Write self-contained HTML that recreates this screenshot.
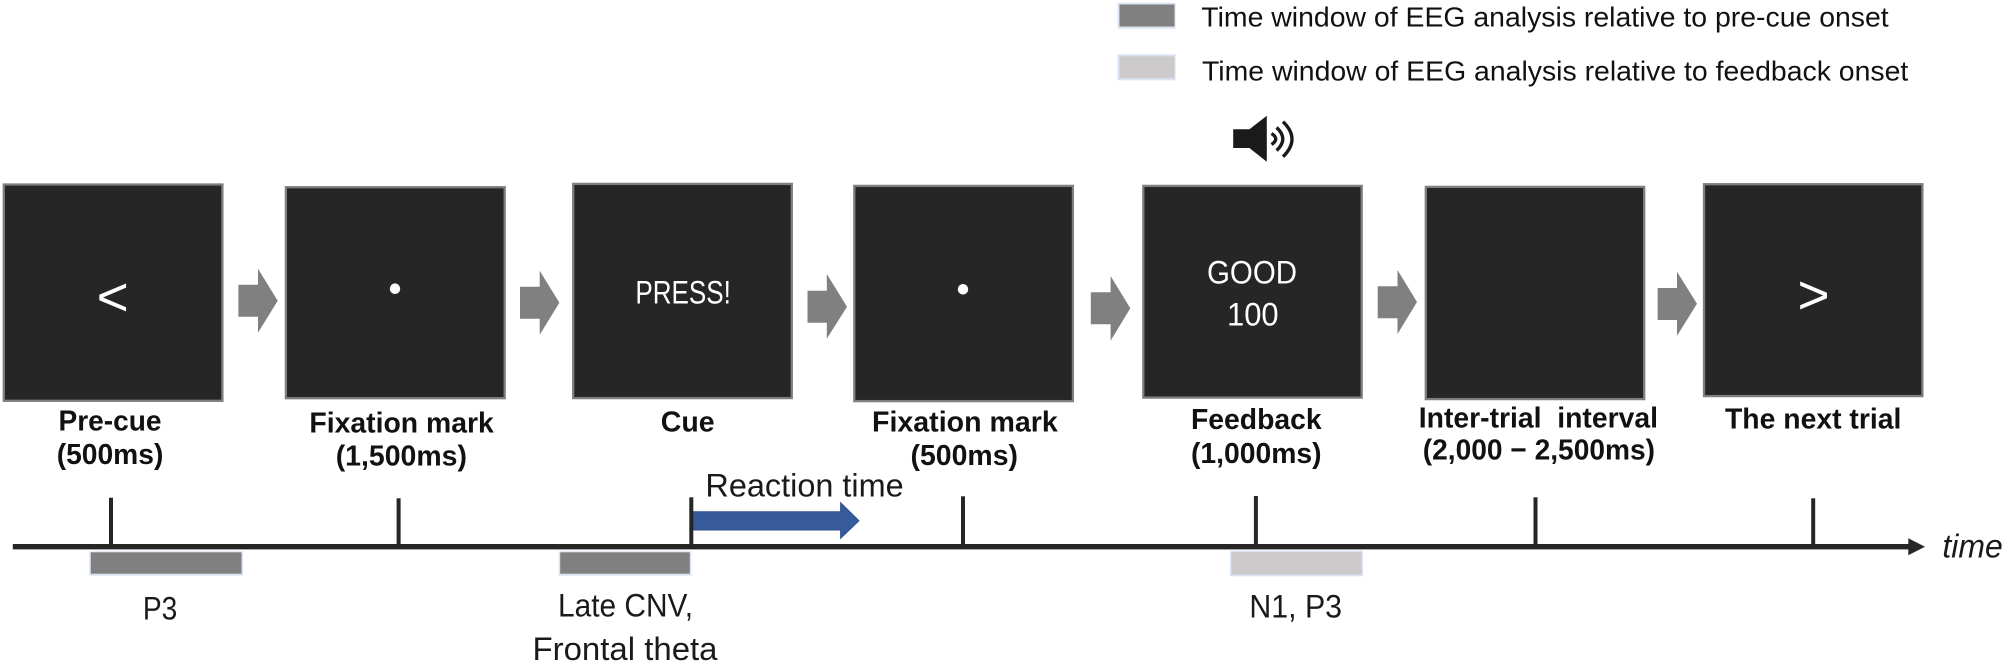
<!DOCTYPE html>
<html>
<head>
<meta charset="utf-8">
<style>
html,body{margin:0;padding:0;background:#fff}
svg{display:block}
text{font-family:"Liberation Sans",sans-serif}
.b{font-weight:700;font-size:29px;fill:#111}
.n{font-size:32px;fill:#1a1a1a}
.l{font-size:27.5px;fill:#111}
.w{font-size:32px;fill:#fff}
</style>
</head>
<body>
<svg width="2008" height="664" viewBox="0 0 2008 664" xmlns="http://www.w3.org/2000/svg">
<rect width="2008" height="664" fill="#fff"/>

<!-- legend -->
<rect x="1117.5" y="2.7" width="58" height="26" fill="#dae3f3"/>
<rect x="1119.5" y="4.5" width="55" height="22" fill="#808080"/>
<text class="l" x="1201.3" y="26.7" textLength="687.4" lengthAdjust="spacingAndGlyphs">Time window of EEG analysis relative to pre-cue onset</text>
<rect x="1117.5" y="54.3" width="58" height="26" fill="#dae3f3"/>
<rect x="1119.5" y="56.3" width="55" height="22" fill="#cccaca"/>
<text class="l" x="1202" y="80.7" textLength="706.3" lengthAdjust="spacingAndGlyphs">Time window of EEG analysis relative to feedback onset</text>

<!-- speaker -->
<polygon points="1233.2,129.3 1249.4,129.3 1266.8,115.7 1266.8,161.7 1249.4,148 1233.2,148" fill="#1a1a1a"/>
<g fill="none" stroke="#1a1a1a" stroke-width="3.4">
<path d="M1271.5,133.5 Q1280,139 1271.5,144.5"/>
<path d="M1276.6,127.5 Q1289,139 1276.6,150.5"/>
<path d="M1283,121.7 Q1301,139 1283,156.7"/>
</g>

<!-- screens -->
<g fill="#262626" stroke="#7f7f7f" stroke-width="2.3">
<rect x="3.8" y="184.5" width="218.6" height="216.3"/>
<rect x="285.9" y="187.2" width="218.8" height="211"/>
<rect x="573.2" y="183.9" width="218.6" height="214.2"/>
<rect x="854.3" y="185.9" width="218.6" height="215.2"/>
<rect x="1143.3" y="185.9" width="218.4" height="211.7"/>
<rect x="1425.8" y="186.9" width="218.4" height="212.2"/>
<rect x="1704" y="184.2" width="218.4" height="211.9"/>
</g>

<!-- arrows between screens -->
<g fill="#808080">
<polygon points="238.4,284.7 258,284.7 258,268.7 277.7,300.7 258,332.7 258,316.7 238.4,316.7"/>
<polygon points="520,286.7 539.7,286.7 539.7,270.7 559.4,302.7 539.7,334.7 539.7,318.7 520,318.7"/>
<polygon points="807.5,290.7 826.8,290.7 826.8,274 847,306.7 826.8,338.7 826.8,322.7 807.5,322.7"/>
<polygon points="1090.8,292.3 1110.6,292.3 1110.6,276 1130.3,308.3 1110.6,340.7 1110.6,324.3 1090.8,324.3"/>
<polygon points="1377.7,286.3 1397.5,286.3 1397.5,270 1417,302 1397.5,334 1397.5,318.3 1377.7,318.3"/>
<polygon points="1657.6,288 1677,288 1677,271.7 1697,303.7 1677,335.7 1677,320 1657.6,320"/>
</g>

<!-- screen content -->
<text x="96.6" y="315.7" font-size="55" fill="#fff">&lt;</text>
<ellipse cx="395" cy="288.7" rx="5.2" ry="5.3" fill="#fff"/>
<text class="w" x="635.4" y="303.7" textLength="95.5" lengthAdjust="spacingAndGlyphs">PRESS!</text>
<ellipse cx="963" cy="289.3" rx="5.2" ry="5.3" fill="#fff"/>
<text class="w" x="1207" y="283.3" textLength="90" lengthAdjust="spacingAndGlyphs">GOOD</text>
<text class="w" x="1227" y="325.7" textLength="51.6" lengthAdjust="spacingAndGlyphs">100</text>
<text x="1797.5" y="313.4" font-size="55" fill="#fff">&gt;</text>

<!-- bold labels -->
<text class="b" x="58.5" y="430.7" textLength="103" lengthAdjust="spacingAndGlyphs">Pre-cue</text>
<text class="b" x="56.7" y="464" textLength="106.7" lengthAdjust="spacingAndGlyphs">(500ms)</text>
<text class="b" x="309.4" y="432.3" textLength="184.4" lengthAdjust="spacingAndGlyphs">Fixation mark</text>
<text class="b" x="335.7" y="465.3" textLength="131.3" lengthAdjust="spacingAndGlyphs">(1,500ms)</text>
<text class="b" x="660.8" y="431.5" textLength="53.8" lengthAdjust="spacingAndGlyphs">Cue</text>
<text class="b" x="872" y="431.5" textLength="185.8" lengthAdjust="spacingAndGlyphs">Fixation mark</text>
<text class="b" x="910.5" y="465" textLength="107.5" lengthAdjust="spacingAndGlyphs">(500ms)</text>
<text class="b" x="1191" y="429" textLength="130.6" lengthAdjust="spacingAndGlyphs">Feedback</text>
<text class="b" x="1191" y="463" textLength="130.6" lengthAdjust="spacingAndGlyphs">(1,000ms)</text>
<text class="b" x="1418.8" y="427.3" textLength="239.2" lengthAdjust="spacingAndGlyphs">Inter-trial&#160;&#160;interval</text>
<text class="b" x="1422.8" y="459.3" textLength="232.2" lengthAdjust="spacingAndGlyphs">(2,000 − 2,500ms)</text>
<text class="b" x="1725" y="428.3" textLength="176.4" lengthAdjust="spacingAndGlyphs">The next trial</text>

<!-- reaction time -->
<text class="n" x="705.4" y="496.7" textLength="198.3" lengthAdjust="spacingAndGlyphs">Reaction time</text>
<polygon points="693,511.7 840.6,511.7 840.6,502.7 859,520.7 840.6,538.3 840.6,530 693,530" fill="#365a9a" stroke="#2f528f" stroke-width="1"/>

<!-- timeline -->
<rect x="12.8" y="544" width="1898" height="5.4" fill="#262626"/>
<polygon points="1908.3,538.3 1925,546.7 1908.3,555.3" fill="#262626"/>
<g fill="#262626">
<rect x="109" y="497.7" width="4" height="48"/>
<rect x="396.6" y="498.3" width="4" height="48"/>
<rect x="689.3" y="497.3" width="4" height="48"/>
<rect x="961" y="496.3" width="4" height="48"/>
<rect x="1253.9" y="496" width="4" height="48"/>
<rect x="1533.5" y="497.3" width="4" height="48"/>
<rect x="1811.2" y="498.3" width="4" height="48"/>
</g>
<text x="1942.4" y="557.3" font-size="33" font-style="italic" fill="#1a1a1a" textLength="60.4" lengthAdjust="spacingAndGlyphs">time</text>

<!-- analysis windows -->
<rect x="89.3" y="551.3" width="153.7" height="24.4" fill="#dae3f3"/>
<rect x="90.8" y="552.3" width="150.7" height="21.4" fill="#808080"/>
<rect x="558.7" y="551.3" width="132.6" height="24.4" fill="#dae3f3"/>
<rect x="560.2" y="552.3" width="129.6" height="21.4" fill="#808080"/>
<rect x="1230" y="550.7" width="133" height="25.6" fill="#dae3f3"/>
<rect x="1231.5" y="552" width="130" height="22.6" fill="#cccaca"/>

<text class="n" x="142.9" y="619.3" textLength="34.4" lengthAdjust="spacingAndGlyphs">P3</text>
<text class="n" x="558" y="616.7" textLength="135" lengthAdjust="spacingAndGlyphs">Late CNV,</text>
<text class="n" x="532.5" y="660" textLength="185" lengthAdjust="spacingAndGlyphs">Frontal theta</text>
<text class="n" x="1249.4" y="617.3" textLength="92.6" lengthAdjust="spacingAndGlyphs">N1, P3</text>
</svg>
</body>
</html>
